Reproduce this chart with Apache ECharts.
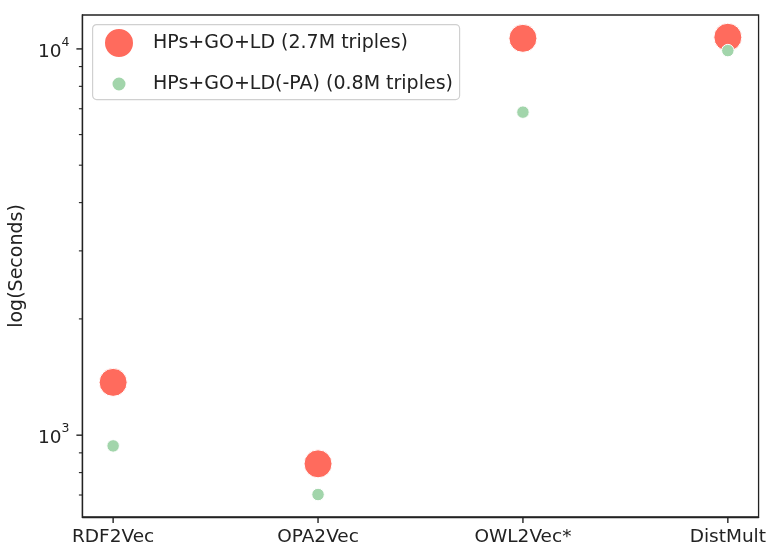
<!DOCTYPE html>
<html>
<head>
<meta charset="utf-8">
<script src="https://cdn.jsdelivr.net/npm/echarts@6/dist/echarts.min.js"></script>
<style>
html,body{margin:0;padding:0;background:#fff;}
#chart{width:769px;height:547px;}
</style>
</head>
<body>
<div id="chart"></div>
<script>
const categories = ['RDF2Vec', 'OPA2Vec', 'OWL2Vec*', 'DistMult'];
const seriesNames = ['HPs+GO+LD (2.7M triples)', 'HPs+GO+LD(-PA) (0.8M triples)'];
const fullSeconds = [1370, 843, 10650, 10720];
const reducedSeconds = [938, 702, 6860, 9900];
const majorTicks = [1000, 10000];
const minorTicks = [700, 800, 900, 2000, 3000, 4000, 5000, 6000, 7000, 8000, 9000];

const FONT = 'DejaVu Sans';
const yMin = 614, yMax = 12240;
const xMin = -0.15, xMax = 3.15;

const chart = echarts.init(document.getElementById('chart'));
const toPairs = vals => vals.map((v, i) => [i, v]);

const legendBox = {
  type: 'rect', left: 92, top: 24, z: 50,
  shape: {width: 367, height: 75, r: 4},
  style: {fill: 'rgba(255,255,255,0.85)', stroke: '#d0d0d0', lineWidth: 1.2}
};

chart.setOption({
  animation: false,
  backgroundColor: '#fff',
  grid: {left: 82, right: 10, top: 15, bottom: 29, show: true, borderColor: '#222', borderWidth: 1.3, backgroundColor: 'transparent'},
  graphic: [legendBox],
  legend: [
    {data: [seriesNames[0]], left: 103, top: 27, padding: 0, itemWidth: 30, itemHeight: 30,
     icon: 'circle', textStyle: {fontFamily: FONT, fontSize: 19, color: '#222', padding: [0, 0, 0, 14]}, z: 60},
    {data: [seriesNames[1]], left: 110.5, top: 74.5, padding: 0, itemWidth: 15, itemHeight: 15,
     icon: 'circle', textStyle: {fontFamily: FONT, fontSize: 19, color: '#222', padding: [0, 0, 0, 21.5]}, z: 60}
  ],
  xAxis: {
    type: 'value', min: xMin, max: xMax,
    axisLine: {show: true, onZero: false, lineStyle: {color: '#222', width: 1.3}},
    splitLine: {show: false},
    axisTick: {show: false},
    axisLabel: {show: true, customValues: [0, 1, 2, 3], margin: 11, fontFamily: FONT, fontSize: 18.5, color: '#222',
      formatter: v => categories[Math.round(v)]}
  },
  yAxis: {
    type: 'log', logBase: 10, min: yMin, max: yMax, position: 'left',
    name: 'log(Seconds)', nameLocation: 'middle', nameGap: 51,
    nameTextStyle: {fontFamily: FONT, fontSize: 19, color: '#222'},
    axisLine: {show: true, onZero: false, lineStyle: {color: '#222', width: 1.3}},
    splitLine: {show: false},
    minorTick: {show: false},
    axisTick: {show: false},
    axisLabel: {show: true, customValues: majorTicks, margin: 13, color: '#222',
      formatter: v => '{base|10}{sup|' + Math.round(Math.log10(v)) + '}',
      rich: {
        base: {fontFamily: FONT, fontSize: 18.5, color: '#222', lineHeight: 26, verticalAlign: 'bottom'},
        sup: {fontFamily: FONT, fontSize: 12.5, color: '#222', lineHeight: 26, verticalAlign: 'top'}
      }}
  },
  series: [{
    name: seriesNames[0], type: 'scatter', data: toPairs(fullSeconds),
    symbol: 'circle', symbolSize: 28,
    itemStyle: {color: '#ff6b5d', opacity: 1, borderColor: '#fff', borderWidth: 1}
  }, {
    name: seriesNames[1], type: 'scatter', data: toPairs(reducedSeconds),
    symbol: 'circle', symbolSize: 12.5,
    itemStyle: {color: '#a2d5ab', opacity: 1, borderColor: '#fff', borderWidth: 1}
  }]
});

// tick marks placed through the chart's own axis scales
const tickEls = [];
const yTick = (v, len, w) => {
  const p = chart.convertToPixel({gridIndex: 0}, [xMin, v]);
  if (p && isFinite(p[0]) && isFinite(p[1])) {
    tickEls.push({type: 'line', z: 40, silent: true,
      shape: {x1: p[0] - len, y1: p[1], x2: p[0], y2: p[1]},
      style: {stroke: '#222', lineWidth: w}});
  }
};
majorTicks.forEach(v => yTick(v, 6, 1.4));
minorTicks.forEach(v => yTick(v, 3.5, 1.1));
categories.forEach((c, i) => {
  const p = chart.convertToPixel({gridIndex: 0}, [i, yMin]);
  if (p && isFinite(p[0]) && isFinite(p[1])) {
    tickEls.push({type: 'line', z: 40, silent: true,
      shape: {x1: p[0], y1: p[1], x2: p[0], y2: p[1] + 6},
      style: {stroke: '#222', lineWidth: 1.4}});
  }
});
chart.setOption({graphic: [legendBox].concat(tickEls)}, {replaceMerge: ['graphic']});
</script>
</body>
</html>
